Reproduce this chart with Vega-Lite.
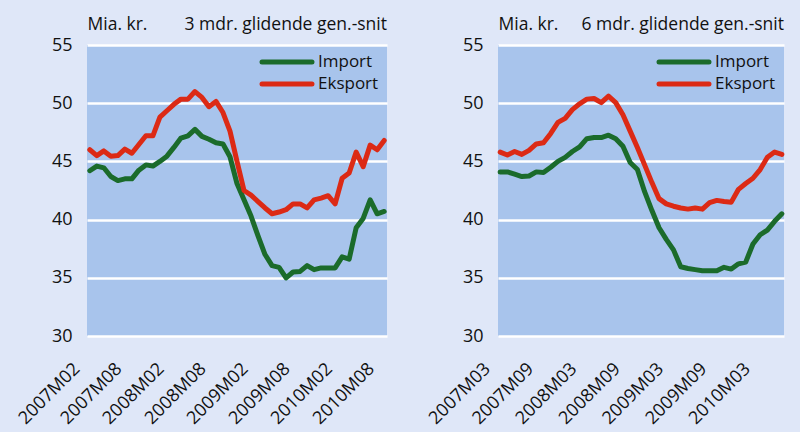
{
  "$schema": "https://vega.github.io/schema/vega-lite/v6.json",
  "background": "#dfe7f8",
  "padding": {"left": 15, "top": 15, "right": 16, "bottom": 4},
  "spacing": 38,
  "config": {
    "font": "Open Sans",
    "view": {"fill": "#a8c4ec", "stroke": null},
    "axis": {"labelFont": "Open Sans", "labelColor": "#111111", "labelFontSize": 18, "domain": false, "ticks": false, "titleFont": "Open Sans", "titleFontSize": 17.5, "titleFontWeight": "normal", "titleColor": "#111111"},
    "title": {"font": "Open Sans", "fontSize": 17.5, "fontWeight": "normal", "color": "#111111", "anchor": "end", "frame": "group"},
    "legend": {"title": null, "orient": "top-right", "offset": 8, "symbolType": "M-4,0H4", "symbolSize": 156, "symbolStrokeWidth": 5, "labelFont": "Open Sans", "labelFontSize": 17, "labelColor": "#111111", "labelOffset": 22, "rowPadding": 2, "padding": 0}
  },
  "resolve": {"scale": {"x": "independent", "y": "independent", "color": "independent"}, "legend": {"color": "independent"}},
  "hconcat": [
    {
      "width": 300,
      "height": 291,
      "title": {"text": "3 mdr. glidende gen.-snit", "offset": -18},
      "data": {"values": [
        {"m":"2007M02","s":"Import","v":44.2},{"m":"2007M03","s":"Import","v":44.6},{"m":"2007M04","s":"Import","v":44.45},{"m":"2007M05","s":"Import","v":43.7},{"m":"2007M06","s":"Import","v":43.35},{"m":"2007M07","s":"Import","v":43.5},{"m":"2007M08","s":"Import","v":43.5},{"m":"2007M09","s":"Import","v":44.25},{"m":"2007M10","s":"Import","v":44.7},{"m":"2007M11","s":"Import","v":44.6},{"m":"2007M12","s":"Import","v":45.0},
        {"m":"2008M01","s":"Import","v":45.45},{"m":"2008M02","s":"Import","v":46.2},{"m":"2008M03","s":"Import","v":47.0},{"m":"2008M04","s":"Import","v":47.2},{"m":"2008M05","s":"Import","v":47.75},{"m":"2008M06","s":"Import","v":47.15},{"m":"2008M07","s":"Import","v":46.9},{"m":"2008M08","s":"Import","v":46.6},{"m":"2008M09","s":"Import","v":46.5},{"m":"2008M10","s":"Import","v":45.4},{"m":"2008M11","s":"Import","v":43.1},{"m":"2008M12","s":"Import","v":41.7},
        {"m":"2009M01","s":"Import","v":40.3},{"m":"2009M02","s":"Import","v":38.6},{"m":"2009M03","s":"Import","v":37.0},{"m":"2009M04","s":"Import","v":36.05},{"m":"2009M05","s":"Import","v":35.9},{"m":"2009M06","s":"Import","v":35.0},{"m":"2009M07","s":"Import","v":35.5},{"m":"2009M08","s":"Import","v":35.55},{"m":"2009M09","s":"Import","v":36.05},{"m":"2009M10","s":"Import","v":35.7},{"m":"2009M11","s":"Import","v":35.85},{"m":"2009M12","s":"Import","v":35.85},
        {"m":"2010M01","s":"Import","v":35.85},{"m":"2010M02","s":"Import","v":36.8},{"m":"2010M03","s":"Import","v":36.6},{"m":"2010M04","s":"Import","v":39.3},{"m":"2010M05","s":"Import","v":40.1},{"m":"2010M06","s":"Import","v":41.7},{"m":"2010M07","s":"Import","v":40.5},{"m":"2010M08","s":"Import","v":40.7},
        {"m":"2007M02","s":"Eksport","v":46.0},{"m":"2007M03","s":"Eksport","v":45.5},{"m":"2007M04","s":"Eksport","v":45.9},{"m":"2007M05","s":"Eksport","v":45.45},{"m":"2007M06","s":"Eksport","v":45.5},{"m":"2007M07","s":"Eksport","v":46.05},{"m":"2007M08","s":"Eksport","v":45.7},{"m":"2007M09","s":"Eksport","v":46.45},{"m":"2007M10","s":"Eksport","v":47.2},{"m":"2007M11","s":"Eksport","v":47.2},{"m":"2007M12","s":"Eksport","v":48.8},
        {"m":"2008M01","s":"Eksport","v":49.35},{"m":"2008M02","s":"Eksport","v":49.9},{"m":"2008M03","s":"Eksport","v":50.35},{"m":"2008M04","s":"Eksport","v":50.35},{"m":"2008M05","s":"Eksport","v":51.0},{"m":"2008M06","s":"Eksport","v":50.5},{"m":"2008M07","s":"Eksport","v":49.7},{"m":"2008M08","s":"Eksport","v":50.15},{"m":"2008M09","s":"Eksport","v":49.2},{"m":"2008M10","s":"Eksport","v":47.6},{"m":"2008M11","s":"Eksport","v":45.0},{"m":"2008M12","s":"Eksport","v":42.5},
        {"m":"2009M01","s":"Eksport","v":42.1},{"m":"2009M02","s":"Eksport","v":41.55},{"m":"2009M03","s":"Eksport","v":41.0},{"m":"2009M04","s":"Eksport","v":40.5},{"m":"2009M05","s":"Eksport","v":40.65},{"m":"2009M06","s":"Eksport","v":40.85},{"m":"2009M07","s":"Eksport","v":41.35},{"m":"2009M08","s":"Eksport","v":41.35},{"m":"2009M09","s":"Eksport","v":41.0},{"m":"2009M10","s":"Eksport","v":41.7},{"m":"2009M11","s":"Eksport","v":41.85},{"m":"2009M12","s":"Eksport","v":42.05},
        {"m":"2010M01","s":"Eksport","v":41.35},{"m":"2010M02","s":"Eksport","v":43.55},{"m":"2010M03","s":"Eksport","v":44.0},{"m":"2010M04","s":"Eksport","v":45.8},{"m":"2010M05","s":"Eksport","v":44.55},{"m":"2010M06","s":"Eksport","v":46.4},{"m":"2010M07","s":"Eksport","v":46.0},{"m":"2010M08","s":"Eksport","v":46.8}
      ]},
      "mark": {"type": "line", "strokeWidth": 5, "strokeJoin": "round", "strokeCap": "round"},
      "encoding": {
        "x": {"field": "m", "type": "ordinal", "sort": null, "scale": {"type": "point", "padding": 0.4},
              "axis": {"values": ["2007M02","2007M08","2008M02","2008M08","2009M02","2009M08","2010M02","2010M08"], "labelAngle": -45, "labelAlign": "right", "labelBaseline": "middle", "labelPadding": 30, "labelOffset": -13, "labelOverlap": false, "labelBound": false, "title": null, "grid": false}},
        "y": {"field": "v", "type": "quantitative", "scale": {"domain": [30, 55], "nice": false, "zero": false},
              "axis": {"values": [30,35,40,45,50,55], "grid": true, "gridColor": "#ffffff", "gridWidth": 2.5, "gridOpacity": 1, "labelPadding": 15, "title": "Mia. kr.", "titleAngle": 0, "titleAlign": "left", "titleBaseline": "alphabetic", "titleX": 0, "titleY": -16}},
        "color": {"field": "s", "type": "nominal", "scale": {"domain": ["Import", "Eksport"], "range": ["#1b6b2b", "#dc2a15"]},
                  "legend": {"encode": {"symbols": {"update": {"strokeCap": {"value": "round"}}}}}}
      }
    },
    {
      "width": 286,
      "height": 291,
      "title": {"text": "6 mdr. glidende gen.-snit", "offset": -18},
      "data": {"values": [
        {"m":"2007M03","s":"Import","v":44.1},{"m":"2007M04","s":"Import","v":44.1},{"m":"2007M05","s":"Import","v":43.9},{"m":"2007M06","s":"Import","v":43.7},{"m":"2007M07","s":"Import","v":43.75},{"m":"2007M08","s":"Import","v":44.1},{"m":"2007M09","s":"Import","v":44.05},{"m":"2007M10","s":"Import","v":44.5},{"m":"2007M11","s":"Import","v":45.0},{"m":"2007M12","s":"Import","v":45.35},
        {"m":"2008M01","s":"Import","v":45.85},{"m":"2008M02","s":"Import","v":46.25},{"m":"2008M03","s":"Import","v":46.95},{"m":"2008M04","s":"Import","v":47.05},{"m":"2008M05","s":"Import","v":47.05},{"m":"2008M06","s":"Import","v":47.25},{"m":"2008M07","s":"Import","v":46.95},{"m":"2008M08","s":"Import","v":46.3},{"m":"2008M09","s":"Import","v":44.9},{"m":"2008M10","s":"Import","v":44.3},{"m":"2008M11","s":"Import","v":42.4},{"m":"2008M12","s":"Import","v":40.8},
        {"m":"2009M01","s":"Import","v":39.3},{"m":"2009M02","s":"Import","v":38.3},{"m":"2009M03","s":"Import","v":37.4},{"m":"2009M04","s":"Import","v":35.95},{"m":"2009M05","s":"Import","v":35.8},{"m":"2009M06","s":"Import","v":35.7},{"m":"2009M07","s":"Import","v":35.6},{"m":"2009M08","s":"Import","v":35.6},{"m":"2009M09","s":"Import","v":35.6},{"m":"2009M10","s":"Import","v":35.9},{"m":"2009M11","s":"Import","v":35.75},{"m":"2009M12","s":"Import","v":36.2},
        {"m":"2010M01","s":"Import","v":36.35},{"m":"2010M02","s":"Import","v":37.9},{"m":"2010M03","s":"Import","v":38.7},{"m":"2010M04","s":"Import","v":39.1},{"m":"2010M05","s":"Import","v":39.85},{"m":"2010M06","s":"Import","v":40.5},
        {"m":"2007M03","s":"Eksport","v":45.8},{"m":"2007M04","s":"Eksport","v":45.55},{"m":"2007M05","s":"Eksport","v":45.85},{"m":"2007M06","s":"Eksport","v":45.6},{"m":"2007M07","s":"Eksport","v":45.95},{"m":"2007M08","s":"Eksport","v":46.5},{"m":"2007M09","s":"Eksport","v":46.6},{"m":"2007M10","s":"Eksport","v":47.4},{"m":"2007M11","s":"Eksport","v":48.35},{"m":"2007M12","s":"Eksport","v":48.7},
        {"m":"2008M01","s":"Eksport","v":49.45},{"m":"2008M02","s":"Eksport","v":49.95},{"m":"2008M03","s":"Eksport","v":50.35},{"m":"2008M04","s":"Eksport","v":50.4},{"m":"2008M05","s":"Eksport","v":50.05},{"m":"2008M06","s":"Eksport","v":50.6},{"m":"2008M07","s":"Eksport","v":50.05},{"m":"2008M08","s":"Eksport","v":49.0},{"m":"2008M09","s":"Eksport","v":47.6},{"m":"2008M10","s":"Eksport","v":46.2},{"m":"2008M11","s":"Eksport","v":44.7},{"m":"2008M12","s":"Eksport","v":43.2},
        {"m":"2009M01","s":"Eksport","v":41.8},{"m":"2009M02","s":"Eksport","v":41.35},{"m":"2009M03","s":"Eksport","v":41.15},{"m":"2009M04","s":"Eksport","v":41.0},{"m":"2009M05","s":"Eksport","v":40.9},{"m":"2009M06","s":"Eksport","v":41.0},{"m":"2009M07","s":"Eksport","v":40.9},{"m":"2009M08","s":"Eksport","v":41.45},{"m":"2009M09","s":"Eksport","v":41.65},{"m":"2009M10","s":"Eksport","v":41.55},{"m":"2009M11","s":"Eksport","v":41.5},{"m":"2009M12","s":"Eksport","v":42.6},
        {"m":"2010M01","s":"Eksport","v":43.1},{"m":"2010M02","s":"Eksport","v":43.55},{"m":"2010M03","s":"Eksport","v":44.3},{"m":"2010M04","s":"Eksport","v":45.35},{"m":"2010M05","s":"Eksport","v":45.8},{"m":"2010M06","s":"Eksport","v":45.6}
      ]},
      "mark": {"type": "line", "strokeWidth": 5, "strokeJoin": "round", "strokeCap": "round"},
      "encoding": {
        "x": {"field": "m", "type": "ordinal", "sort": null, "scale": {"type": "point", "padding": 0.3},
              "axis": {"values": ["2007M03","2007M09","2008M03","2008M09","2009M03","2009M09","2010M03"], "labelAngle": -45, "labelAlign": "right", "labelBaseline": "middle", "labelPadding": 30, "labelOffset": -13, "labelOverlap": false, "labelBound": false, "title": null, "grid": false}},
        "y": {"field": "v", "type": "quantitative", "scale": {"domain": [30, 55], "nice": false, "zero": false},
              "axis": {"values": [30,35,40,45,50,55], "grid": true, "gridColor": "#ffffff", "gridWidth": 2.5, "gridOpacity": 1, "labelPadding": 15, "title": "Mia. kr.", "titleAngle": 0, "titleAlign": "left", "titleBaseline": "alphabetic", "titleX": 0, "titleY": -16}},
        "color": {"field": "s", "type": "nominal", "scale": {"domain": ["Import", "Eksport"], "range": ["#1b6b2b", "#dc2a15"]},
                  "legend": {"encode": {"symbols": {"update": {"strokeCap": {"value": "round"}}}}}}
      }
    }
  ]
}
